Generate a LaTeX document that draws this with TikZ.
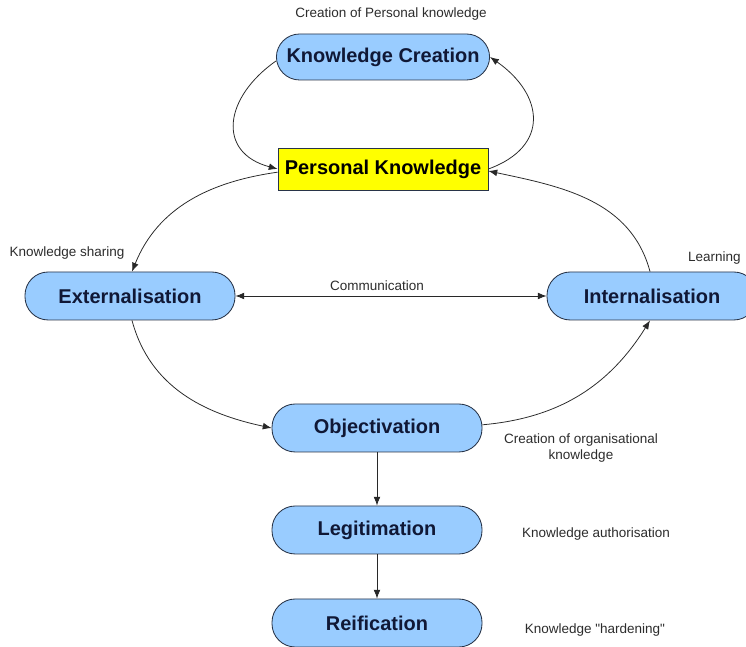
\documentclass[tikz,border=0pt]{standalone}
\usepackage{fontspec}
\setmainfont{Liberation Sans}
\newfontfamily\notefont{Liberation Sans}
\usepackage{tikz}
\usetikzlibrary{arrows.meta, positioning}
\definecolor{kmBlue}{RGB}{153,204,255}
\definecolor{kmYellow}{RGB}{255,255,0}
\definecolor{kmEdge}{RGB}{40,52,72}
\definecolor{kmInk}{RGB}{16,24,54}
\definecolor{kmLine}{RGB}{40,40,40}
\definecolor{kmNote}{RGB}{45,45,45}

\begin{document}
\begin{tikzpicture}[
    pill/.style={draw=kmEdge, fill=kmBlue, line width=0.6pt, rounded corners=0.58cm,
                 minimum width=5.25cm, minimum height=1.2cm, text=kmInk,
                 font=\bfseries\fontsize{14.2}{16}\selectfont},
    perso/.style={draw=kmEdge, fill=kmYellow, line width=0.6pt,
                  minimum width=5.25cm, minimum height=1.05cm, text=black,
                  font=\bfseries\fontsize{14.2}{16}\selectfont},
    note/.style={text=kmNote, align=center, font=\notefont\fontsize{9.6}{12}\selectfont},
    arr/.style={-{Latex[length=2.2mm,width=1.7mm]}, line width=0.55pt, draw=kmLine},
    darr/.style={{Latex[length=2.2mm,width=1.7mm]}-{Latex[length=2.2mm,width=1.7mm]},
                 line width=0.55pt, draw=kmLine}
]
\useasboundingbox[fill=white] (0,0) rectangle (18.65,16.175);

% the knowledge cycle
\node[pill, minimum width=5.33cm, minimum height=1.15cm] (create) at (9.575,14.75) {Knowledge Creation};
\node[perso] (personal) at (9.575,11.95) {Personal Knowledge};
\node[pill] (ext) at (3.25,8.775)  {Externalisation};
\node[pill] (int) at (16.3,8.775)  {Internalisation};
\node[pill] (obj) at (9.425,5.475) {Objectivation};
\node[pill] (leg) at (9.425,2.925) {Legitimation};
\node[pill] (rei) at (9.425,0.6)   {Reification};

% labels
\node[note] (lCreate) at (9.775,15.825) {Creation of Personal knowledge};
\node[note] (lShare)  at (1.675,9.85)   {Knowledge sharing};
\node[note, anchor=east] (lLearn) at (18.64,9.725) {Learning};
\node[note] (lComm)   at (9.425,9.025)  {Communication};
\node[note] (lOrg)    at (14.525,4.975) {Creation of organisational\\knowledge};
\node[note] (lAuth)   at (14.9,2.825)   {Knowledge authorisation};
\node[note] (lHard)   at (14.875,0.425) {Knowledge "hardening"};

% connectors
\draw[arr] ([yshift=-0.1cm]create.west) to[out=215,in=165,looseness=1.5] (personal.west);
\draw[arr] (personal.east) to[out=20,in=-35,looseness=1.5] (create.east);
\draw[arr] ([yshift=-0.08cm]personal.west) to[out=188,in=68] ([xshift=0.05cm]ext.north);
\draw[arr] ([xshift=-0.05cm]int.north) to[out=105,in=-12] ([yshift=-0.05cm]personal.east);
\draw[darr] (ext.east) -- (int.west);
\draw[arr] ([xshift=0.05cm]ext.south) to[out=-75,in=168] (obj.west);
\draw[arr] ([yshift=0.08cm]obj.east) to[out=5,in=-122] ([xshift=-0.05cm]int.south);
\draw[arr] (obj) -- (leg);
\draw[arr] (leg) -- (rei);
\end{tikzpicture}
\end{document}
